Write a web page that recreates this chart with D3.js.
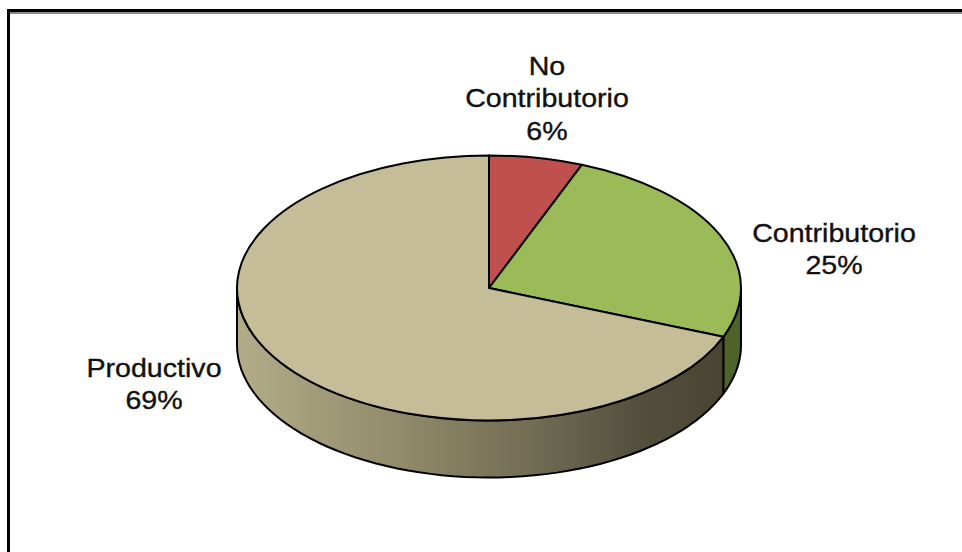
<!DOCTYPE html>
<html>
<head>
<meta charset="utf-8">
<script src="https://cdn.jsdelivr.net/npm/d3@7"></script>
<style>
  body { margin: 0; background: #fff; }
  svg { display: block; }
  text { font-family: "Liberation Sans", Arial, sans-serif; fill: #111; stroke: #111; stroke-width: 0.35px; }
</style>
</head>
<body>
<script>
// data
const categories = ["No Contributorio", "Contributorio", "Productivo"];
const values = [6, 25, 69];
const labelLines = [["No", "Contributorio", "6%"], ["Contributorio", "25%"], ["Productivo", "69%"]];
const topColors = ["#C0504D", "#9BBB59", "#C4BD97"];
const sideColors = ["#7a2f2d", "#4F6228", "url(#tanSide)"];

const width = 962, height = 552;
const cx = 489, cy = 288, rx = 252, ry = 132.5, depth = 57;

// label layout (centre x, first baseline)
const labelPos = [[547, 75], [834, 242], [154, 377]];
const lineGap = 32.5;

let svg = d3.select("body").append("svg")
  .attr("width", width)
  .attr("height", height);

// frame
svg.append("rect")
  .attr("x", 8.5).attr("y", 10.5)
  .attr("width", 1000).attr("height", 600)
  .attr("fill", "none")
  .attr("stroke", "#000")
  .attr("stroke-width", 3);
svg.append("line")
  .attr("x1", 10).attr("x2", width)
  .attr("y1", 13).attr("y2", 13)
  .attr("stroke", "#8a8a8a")
  .attr("stroke-width", 2);

let defs = svg.append("defs");
let grad = defs.append("linearGradient")
  .attr("id", "tanSide")
  .attr("gradientUnits", "userSpaceOnUse")
  .attr("x1", cx - rx).attr("x2", cx + rx)
  .attr("y1", 0).attr("y2", 0);
[[0, "#b3ac89"], [0.3, "#948d6d"], [0.55, "#767157"], [0.8, "#534f3d"], [1, "#47432f"]]
  .forEach(s => grad.append("stop").attr("offset", s[0]).attr("stop-color", s[1]));

let pie = d3.pie().sort(null).startAngle(0).endAngle(2 * Math.PI);
let arcs = pie(values);

const px = a => cx + rx * Math.sin(a);
const py = a => cy - ry * Math.cos(a);

// side walls (front half only: pi/2 .. 3pi/2)
function sidePath(d) {
  let a0 = Math.max(d.startAngle, Math.PI / 2);
  let a1 = Math.min(d.endAngle, 3 * Math.PI / 2);
  if (a1 <= a0) return null;
  let p = d3.path();
  let n = 60;
  p.moveTo(px(a0), py(a0));
  for (let i = 1; i <= n; i++) {
    let a = a0 + (a1 - a0) * i / n;
    p.lineTo(px(a), py(a));
  }
  for (let i = n; i >= 0; i--) {
    let a = a0 + (a1 - a0) * i / n;
    p.lineTo(px(a), py(a) + depth);
  }
  p.closePath();
  return p.toString();
}

svg.append("g")
  .selectAll("path")
  .data(arcs.filter(d => sidePath(d)))
  .join("path")
  .attr("d", sidePath)
  .attr("fill", d => sideColors[d.index])
  .attr("stroke", "#000")
  .attr("stroke-width", 2)
  .attr("stroke-linejoin", "round");

// top face
let arc = d3.arc().innerRadius(0).outerRadius(rx);
svg.append("g")
  .attr("transform", `translate(${cx},${cy}) scale(1,${ry / rx})`)
  .selectAll("path")
  .data(arcs)
  .join("path")
  .attr("d", arc)
  .attr("fill", d => topColors[d.index])
  .attr("stroke", "#000")
  .attr("stroke-width", 2)
  .attr("stroke-linejoin", "round")
  .attr("vector-effect", "non-scaling-stroke");

// labels
let labels = svg.append("g")
  .selectAll("g")
  .data(categories)
  .join("g")
  .attr("transform", (d, i) => `translate(${labelPos[i][0]},${labelPos[i][1]}) scale(1.1,1)`);

labels.each(function(d, i) {
  d3.select(this).selectAll("text")
    .data(labelLines[i])
    .join("text")
    .attr("x", 0)
    .attr("y", (t, j) => j * lineGap)
    .attr("text-anchor", "middle")
    .attr("font-size", 26)
    .text(t => t);
});
</script>
</body>
</html>
